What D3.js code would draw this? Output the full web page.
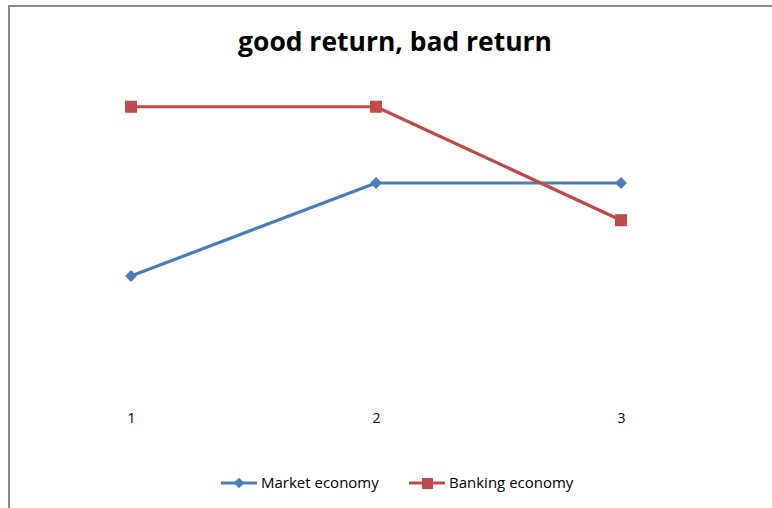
<!DOCTYPE html>
<html><head><meta charset="utf-8">
<script src="https://cdn.jsdelivr.net/npm/d3@7"></script>
<style>html,body{margin:0;padding:0;background:#fff;}svg{display:block;}</style>
</head><body>
<svg id="chart" width="772" height="508"></svg>
<script>
const title = "good return, bad return";
const categories = ["1", "2", "3"];
const marketEconomy = [1.5, 2.5, 2.5];
const bankingEconomy = [3.32, 3.32, 2.1];
const seriesNames = ["Market economy", "Banking economy"];
const seriesColors = ["#4A7EBB", "#BE4B48"];

const svg = d3.select("#chart");
const W = 772, H = 508;
svg.append("rect").attr("width", W).attr("height", H).attr("fill", "#fff");
// chart border (top/left visible)
svg.append("path").attr("d", `M9,${H+2}V6H${W+2}`).attr("fill", "none")
  .attr("stroke", "#8a8a8a").attr("stroke-width", 2);

const fontFam = "'Open Sans','Noto Sans',Calibri,sans-serif";

// title
const t = svg.append("text").attr("x", 395).attr("y", 51).attr("text-anchor", "middle")
  .attr("font-family", fontFam).attr("font-weight", "bold").attr("font-size", 26)
  .attr("fill", "#000").text(title);
const tw = t.node().getComputedTextLength();
t.attr("font-size", 26 * 314 / tw);

const x = d3.scalePoint().domain(categories).range([131, 621]);
const y = d3.scaleLinear().domain([0, 4]).range([415.5, 43.5]);

// category axis labels (no line)
const xAxis = d3.axisBottom(x).tickSize(0).tickPadding(0);
const gx = svg.append("g").attr("transform", "translate(0,413)").call(xAxis);
gx.select(".domain").remove();
gx.selectAll("text").attr("font-family", fontFam).attr("font-size", 14).attr("fill", "#000");

const data = [marketEconomy, bankingEconomy];
const line = d3.line().x((d, i) => x(categories[i])).y(d => y(d));

data.forEach((vals, si) => {
  svg.append("path").datum(vals).attr("d", line).attr("fill", "none")
    .attr("stroke", seriesColors[si]).attr("stroke-width", 3.2).attr("stroke-linejoin", "round");
});
// markers
const diamond = d3.symbol().type(d3.symbolDiamond2).size(90);
svg.selectAll(".mk").data(marketEconomy).join("path")
  .attr("transform", (d, i) => `translate(${x(categories[i])},${y(d)})`)
  .attr("d", diamond).attr("fill", seriesColors[0]);
svg.selectAll(".bk").data(bankingEconomy).join("rect")
  .attr("x", (d, i) => x(categories[i]) - 6).attr("y", d => y(d) - 6)
  .attr("width", 12).attr("height", 12).attr("fill", seriesColors[1]);

// legend
const legendItems = [
  {name: seriesNames[0], color: seriesColors[0], x0: 221, kind: "diamond"},
  {name: seriesNames[1], color: seriesColors[1], x0: 409, kind: "square"}
];
legendItems.forEach(it => {
  const g = svg.append("g");
  g.append("line").attr("x1", it.x0).attr("x2", it.x0 + 36).attr("y1", 483).attr("y2", 483)
    .attr("stroke", it.color).attr("stroke-width", 3);
  if (it.kind === "diamond") {
    g.append("path").attr("transform", `translate(${it.x0 + 18},483)`).attr("d", d3.symbol().type(d3.symbolDiamond2).size(70)).attr("fill", it.color);
  } else {
    g.append("rect").attr("x", it.x0 + 13).attr("y", 478).attr("width", 11).attr("height", 11).attr("fill", it.color);
  }
  g.append("text").attr("x", it.x0 + 40).attr("y", 488).attr("font-family", fontFam)
    .attr("font-size", 15).attr("fill", "#000").text(it.name);
});
</script>
</body></html>
